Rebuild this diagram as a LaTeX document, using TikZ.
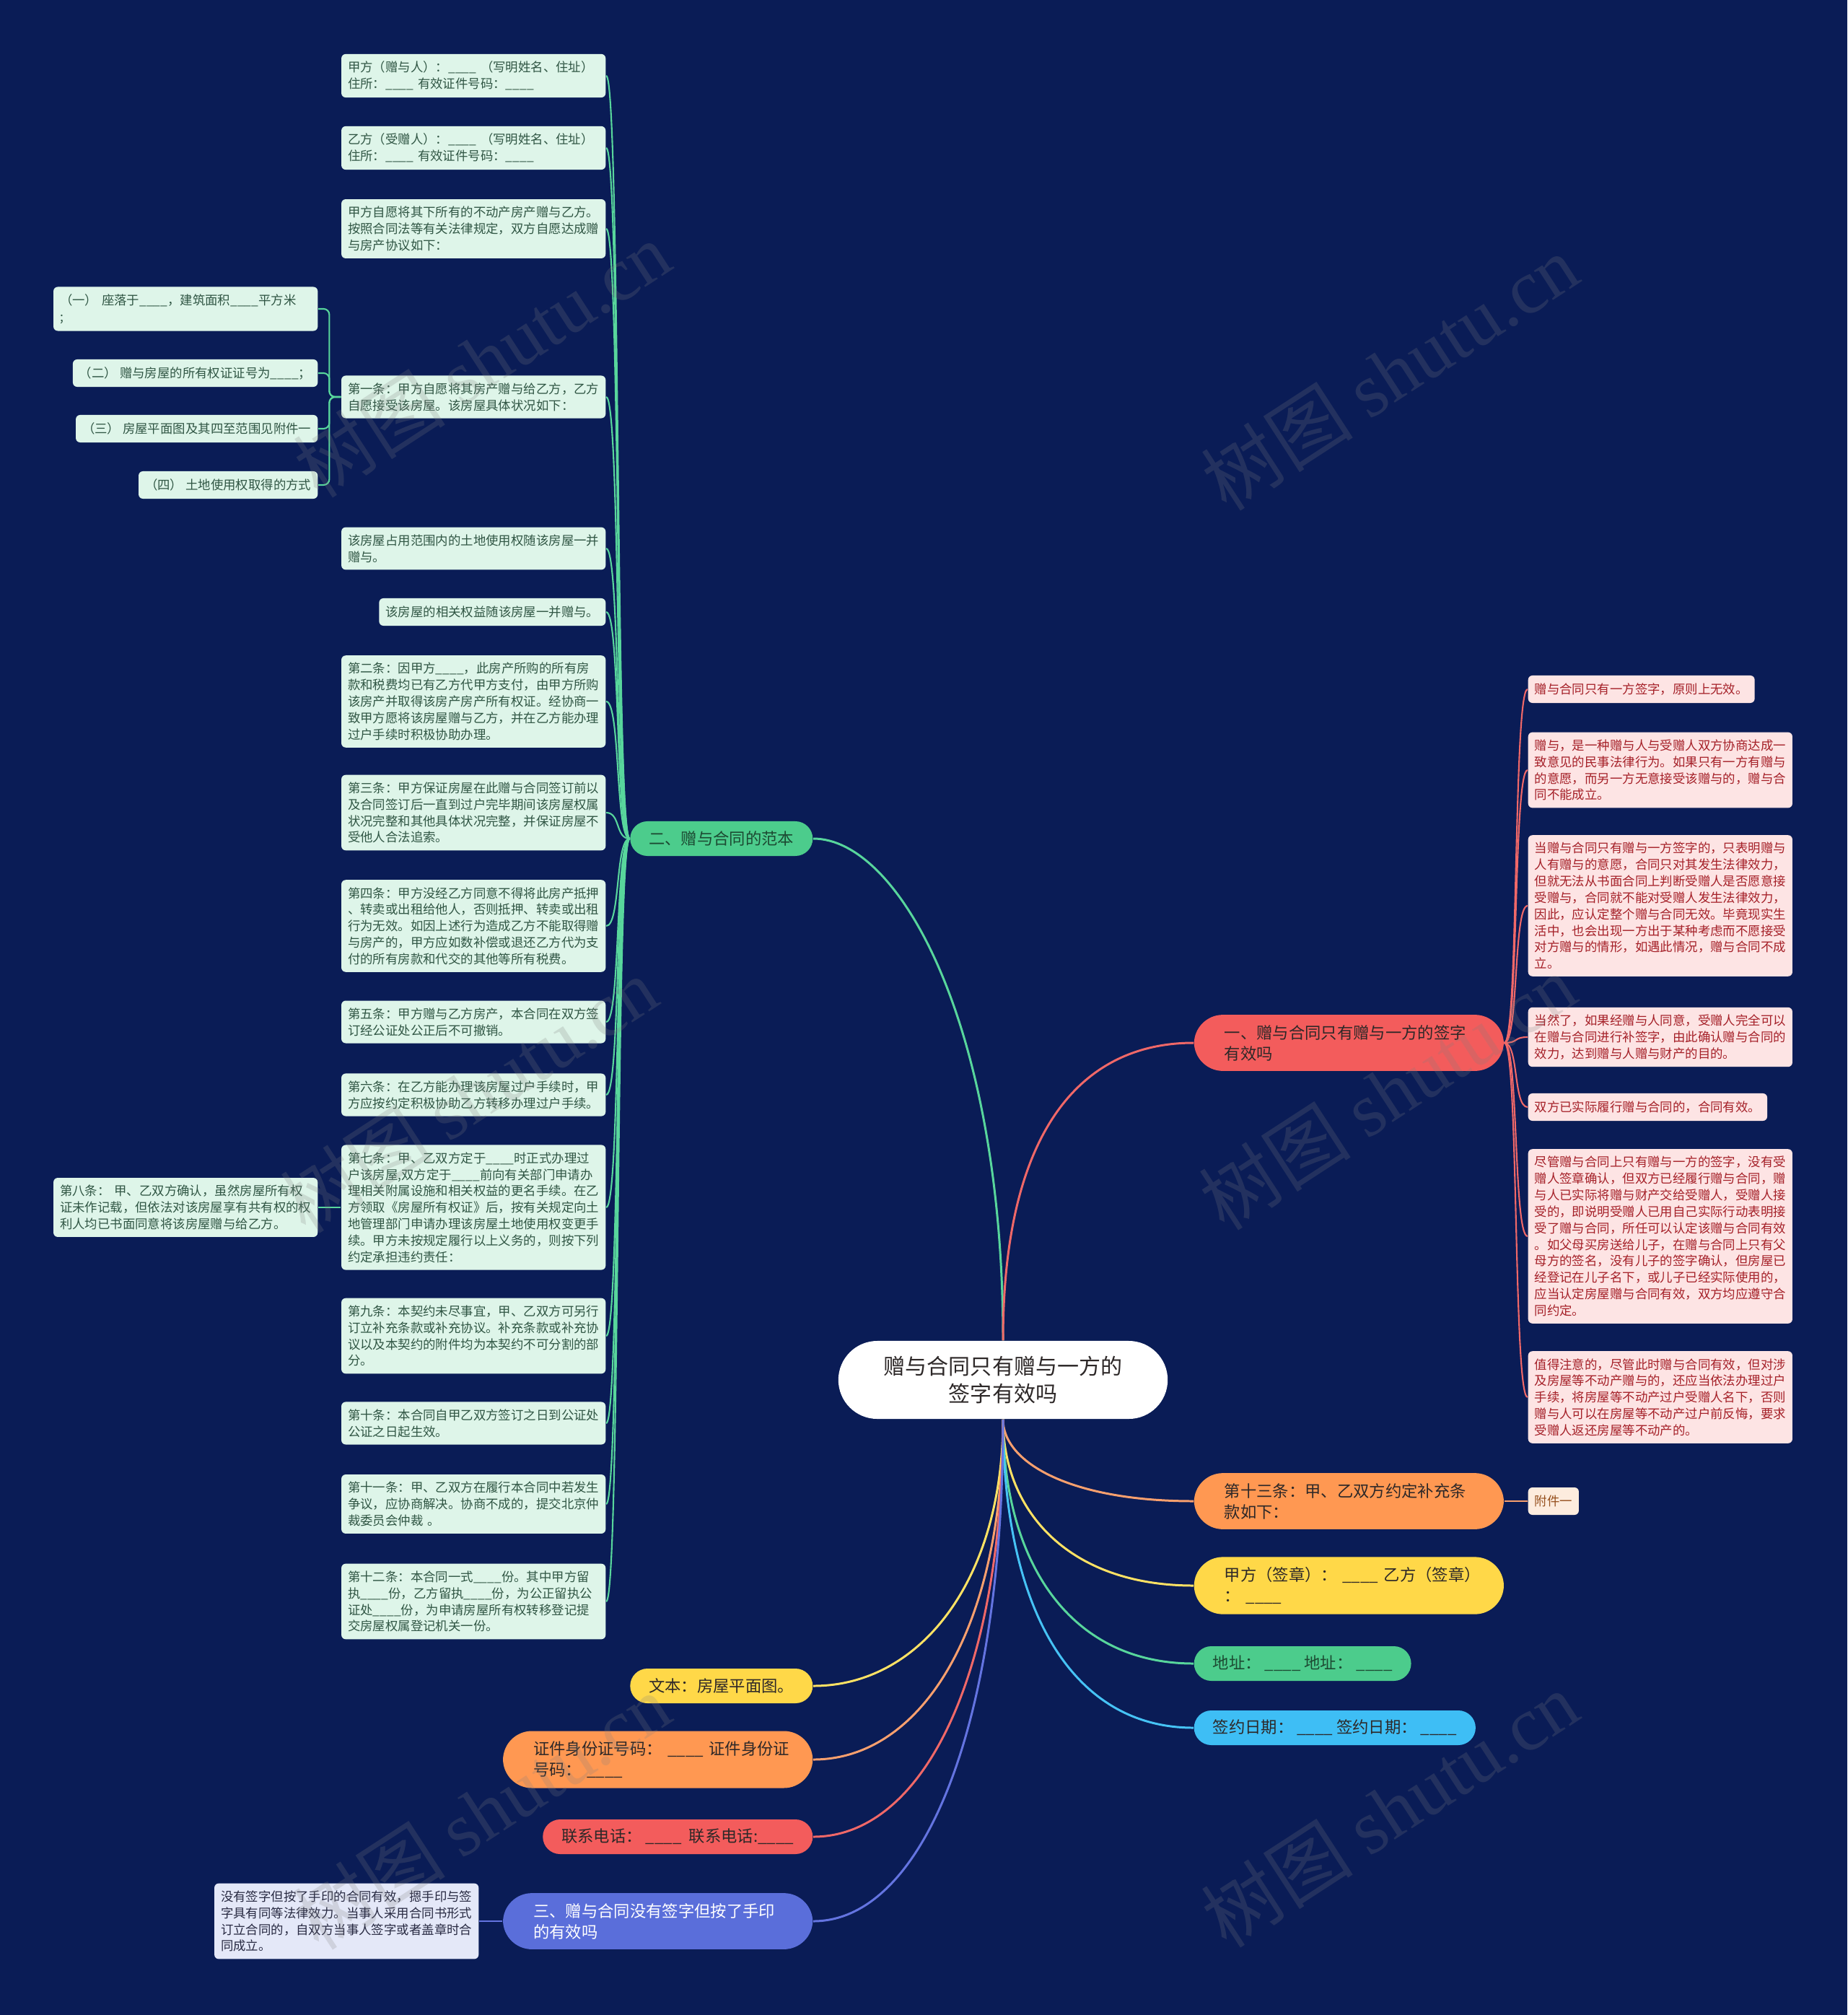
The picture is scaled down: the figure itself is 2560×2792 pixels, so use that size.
\documentclass[tikz,border=0pt]{standalone}
\usepackage{fontspec}
\setmainfont{Noto Sans CJK SC}
\newfontfamily\wmfont{Liberation Serif}
\usepackage{xcolor}
\usepackage{tikz}

\definecolor{bgnavy}{RGB}{10,28,86}
\definecolor{mintfill}{RGB}{222,245,233}
\definecolor{minttext}{RGB}{48,86,68}
\definecolor{pinkfill}{RGB}{253,228,228}
\definecolor{pinktext}{RGB}{165,32,40}
\definecolor{peachfill}{RGB}{253,236,222}
\definecolor{peachtext}{RGB}{150,80,30}
\definecolor{lavfill}{RGB}{228,232,248}
\definecolor{lavtext}{RGB}{40,42,66}
\definecolor{greenfill}{RGB}{76,204,140}
\definecolor{greentext}{RGB}{28,74,50}
\definecolor{redfill}{RGB}{243,92,92}
\definecolor{orangefill}{RGB}{255,152,82}
\definecolor{yellowfill}{RGB}{255,216,72}
\definecolor{cyanfill}{RGB}{62,190,245}
\definecolor{purplefill}{RGB}{90,110,218}
\definecolor{darktext}{RGB}{45,40,40}
\definecolor{greenline}{RGB}{88,214,156}
\definecolor{redline}{RGB}{240,104,104}
\definecolor{orangeline}{RGB}{250,160,110}
\definecolor{yellowline}{RGB}{255,226,100}
\definecolor{cyanline}{RGB}{70,195,245}
\definecolor{purpleline}{RGB}{100,116,225}

\newcommand{\xblank}{\_\_\_\_}

\begin{document}
\begin{tikzpicture}[x=0.01cm, y=-0.01cm,
  leafg/.style={fill=mintfill, text=minttext, rounded corners=0.06cm, inner xsep=0.09cm, inner ysep=0.1cm, minimum height=0.38cm, align=left, font=\fontsize{4.95}{6.49}\selectfont},
  leafr/.style={leafg, fill=pinkfill, text=pinktext},
  wide/.style={text width=3.48cm},
  pill/.style={rounded corners=0.24cm, inner xsep=0.26cm, inner ysep=0.13cm, minimum height=0.48cm, text=darktext, font=\fontsize{6.35}{8.25}\selectfont},
  pilltwo/.style={pill, rounded corners=0.4cm, inner xsep=0.42cm, inner ysep=0.14cm, text width=3.45cm, align=left},
  root/.style={fill=white, text=darktext, rounded corners=0.54cm, inner xsep=0.63cm, inner ysep=0.2cm, minimum height=1.08cm, align=center, font=\fontsize{8.54}{10.8}\selectfont},
  link/.style={line width=0.85pt},
  twig/.style={line width=0.6pt},
  wm/.style={rotate=33, text=gray, opacity=0.22, font=\fontsize{30}{30}\selectfont}
]
\useasboundingbox (0,0) rectangle (2560,2792);
\fill[bgnavy] (0,0) rectangle (2560,2792);

\node[root] (root) at (1390,1912) {赠与合同只有赠与一方的\\签字有效吗};

\node[pill, fill=greenfill, text=greentext, anchor=east] (sample) at (1127,1162) {二、赠与合同的范本};
\node[pilltwo, fill=redfill, anchor=west] (onlyone) at (1654,1445) {一、赠与合同只有赠与一方的签字\\有效吗};
\node[pilltwo, fill=orangefill, anchor=west] (art13) at (1654,2080) {第十三条：甲、乙双方约定补充条\\款如下：};
\node[pilltwo, fill=yellowfill, anchor=west] (sign) at (1654,2197) {甲方（签章）：~\xblank{}~乙方（签章）\\：~\xblank{}};
\node[pill, fill=greenfill, text=greentext, anchor=west] (addr) at (1654,2305) {地址：~\xblank{}~地址：~\xblank{}};
\node[pill, fill=cyanfill, anchor=west] (date) at (1654,2394) {签约日期：~\xblank{}~签约日期：~\xblank{}};
\node[pill, fill=yellowfill, anchor=east] (plantext) at (1127,2336) {文本：房屋平面图。};
\node[pilltwo, fill=orangefill, anchor=east] (idno) at (1127,2438) {证件身份证号码：~\xblank{}~证件身份证\\号码：~\xblank{}};
\node[pill, fill=redfill, anchor=east] (phone) at (1127,2545) {联系电话：~\xblank{}~~联系电话:\xblank{}};
\node[pilltwo, fill=purplefill, text=white, anchor=east] (fingerprint) at (1127,2662) {三、赠与合同没有签字但按了手印\\的有效吗};

\node[leafg, wide, anchor=east] (donor) at (840,105) {甲方（赠与人）：\xblank{}~（写明姓名、住址）\\住所：\xblank{}~有效证件号码：\xblank{}};
\node[leafg, wide, anchor=east] (donee) at (840,205) {乙方（受赠人）：\xblank{}~（写明姓名、住址）\\住所：\xblank{}~有效证件号码：\xblank{}};
\node[leafg, wide, anchor=east] (intro) at (840,317) {甲方自愿将其下所有的不动产房产赠与乙方。\\按照合同法等有关法律规定，双方自愿达成赠\\与房产协议如下：};
\node[leafg, wide, anchor=east] (art1) at (840,550) {第一条：甲方自愿将其房产赠与给乙方，乙方\\自愿接受该房屋。该房屋具体状况如下：};
\node[leafg, wide, anchor=east] (land) at (840,760) {该房屋占用范围内的土地使用权随该房屋一并\\赠与。};
\node[leafg, anchor=east] (rights) at (840,848) {该房屋的相关权益随该房屋一并赠与。};
\node[leafg, wide, anchor=east] (art2) at (840,972) {第二条：因甲方\xblank{}，此房产所购的所有房\\款和税费均已有乙方代甲方支付，由甲方所购\\该房产并取得该房产房产所有权证。经协商一\\致甲方愿将该房屋赠与乙方，并在乙方能办理\\过户手续时积极协助办理。};
\node[leafg, wide, anchor=east] (art3) at (840,1126) {第三条：甲方保证房屋在此赠与合同签订前以\\及合同签订后一直到过户完毕期间该房屋权属\\状况完整和其他具体状况完整，并保证房屋不\\受他人合法追索。};
\node[leafg, wide, anchor=east] (art4) at (840,1283) {第四条：甲方没经乙方同意不得将此房产抵押\\、转卖或出租给他人，否则抵押、转卖或出租\\行为无效。如因上述行为造成乙方不能取得赠\\与房产的，甲方应如数补偿或退还乙方代为支\\付的所有房款和代交的其他等所有税费。};
\node[leafg, wide, anchor=east] (art5) at (840,1416) {第五条：甲方赠与乙方房产，本合同在双方签\\订经公证处公正后不可撤销。};
\node[leafg, wide, anchor=east] (art6) at (840,1517) {第六条：在乙方能办理该房屋过户手续时，甲\\方应按约定积极协助乙方转移办理过户手续。};
\node[leafg, wide, anchor=east] (art7) at (840,1673) {第七条：甲、乙双方定于\xblank{}时正式办理过\\户该房屋,双方定于\xblank{}前向有关部门申请办\\理相关附属设施和相关权益的更名手续。在乙\\方领取《房屋所有权证》后，按有关规定向土\\地管理部门申请办理该房屋土地使用权变更手\\续。甲方未按规定履行以上义务的，则按下列\\约定承担违约责任：};
\node[leafg, wide, anchor=east] (art9) at (840,1851) {第九条：本契约未尽事宜，甲、乙双方可另行\\订立补充条款或补充协议。补充条款或补充协\\议以及本契约的附件均为本契约不可分割的部\\分。};
\node[leafg, wide, anchor=east] (art10) at (840,1972) {第十条：本合同自甲乙双方签订之日到公证处\\公证之日起生效。};
\node[leafg, wide, anchor=east] (art11) at (840,2084) {第十一条：甲、乙双方在履行本合同中若发生\\争议，应协商解决。协商不成的，提交北京仲\\裁委员会仲裁~。};
\node[leafg, wide, anchor=east] (art12) at (840,2219) {第十二条：本合同一式\xblank{}份。其中甲方留\\执\xblank{}份，乙方留执\xblank{}份，为公正留执公\\证处\xblank{}份，为申请房屋所有权转移登记提\\交房屋权属登记机关一份。};

\node[leafg, wide, anchor=east] (loc) at (441,428) {（一）~座落于\xblank{}，建筑面积\xblank{}平方米\\;};
\node[leafg, anchor=east] (cert) at (441,517) {（二）~赠与房屋的所有权证证号为\xblank{}；};
\node[leafg, anchor=east] (plan) at (441,594) {（三）~房屋平面图及其四至范围见附件一};
\node[leafg, anchor=east] (landuse) at (441,672) {（四）~土地使用权取得的方式};
\node[leafg, wide, anchor=east] (art8) at (441,1673) {第八条：~甲、乙双方确认，虽然房屋所有权\\证未作记载，但依法对该房屋享有共有权的权\\利人均已书面同意将该房屋赠与给乙方。};

\node[leafr, anchor=west] (rule) at (2117,955) {赠与合同只有一方签字，原则上无效。};
\node[leafr, wide, anchor=west] (consent) at (2117,1067) {赠与，是一种赠与人与受赠人双方协商达成一\\致意见的民事法律行为。如果只有一方有赠与\\的意愿，而另一方无意接受该赠与的，赠与合\\同不能成立。};
\node[leafr, wide, anchor=west] (onesign) at (2117,1255) {当赠与合同只有赠与一方签字的，只表明赠与\\人有赠与的意愿，合同只对其发生法律效力，\\但就无法从书面合同上判断受赠人是否愿意接\\受赠与，合同就不能对受赠人发生法律效力，\\因此，应认定整个赠与合同无效。毕竟现实生\\活中，也会出现一方出于某种考虑而不愿接受\\对方赠与的情形，如遇此情况，赠与合同不成\\立。};
\node[leafr, wide, anchor=west] (resign) at (2117,1437) {当然了，如果经赠与人同意，受赠人完全可以\\在赠与合同进行补签字，由此确认赠与合同的\\效力，达到赠与人赠与财产的目的。};
\node[leafr, anchor=west] (performed) at (2117,1534) {双方已实际履行赠与合同的，合同有效。};
\node[leafr, wide, anchor=west] (despite) at (2117,1713) {尽管赠与合同上只有赠与一方的签字，没有受\\赠人签章确认，但双方已经履行赠与合同，赠\\与人已实际将赠与财产交给受赠人，受赠人接\\受的，即说明受赠人已用自己实际行动表明接\\受了赠与合同，所任可以认定该赠与合同有效\\。如父母买房送给儿子，在赠与合同上只有父\\母方的签名，没有儿子的签字确认，但房屋已\\经登记在儿子名下，或儿子已经实际使用的，\\应当认定房屋赠与合同有效，双方均应遵守合\\同约定。};
\node[leafr, wide, anchor=west] (caution) at (2117,1936) {值得注意的，尽管此时赠与合同有效，但对涉\\及房屋等不动产赠与的，还应当依法办理过户\\手续，将房屋等不动产过户受赠人名下，否则\\赠与人可以在房屋等不动产过户前反悔，要求\\受赠人返还房屋等不动产的。};

\node[leafg, fill=peachfill, text=peachtext, anchor=west] (attach) at (2117,2080) {附件一};
\node[leafg, wide, fill=lavfill, text=lavtext, anchor=east] (fpnote) at (664,2662) {没有签字但按了手印的合同有效，摁手印与签\\字具有同等法律效力。当事人采用合同书形式\\订立合同的，自双方当事人签字或者盖章时合\\同成立。};

\draw[link, greenline] (root.north) .. controls +(0,-435) and +(120,0) .. (sample.east);
\draw[link, redline] (root.north) .. controls +(0,-290) and +(-156,0) .. (onlyone.west);
\draw[link, orangeline] (root.south) .. controls +(0,60) and +(-170,0) .. (art13.west);
\draw[link, yellowline] (root.south) .. controls +(0,130) and +(-170,0) .. (sign.west);
\draw[link, greenline] (root.south) .. controls +(0,200) and +(-170,0) .. (addr.west);
\draw[link, cyanline] (root.south) .. controls +(0,260) and +(-170,0) .. (date.west);
\draw[link, yellowline] (root.south) .. controls +(0,220) and +(150,0) .. (plantext.east);
\draw[link, orangeline] (root.south) .. controls +(0,290) and +(150,0) .. (idno.east);
\draw[link, redline] (root.south) .. controls +(0,360) and +(150,0) .. (phone.east);
\draw[link, purpleline] (root.south) .. controls +(0,430) and +(150,0) .. (fingerprint.east);

\draw[twig, greenline] (sample.west) .. controls +(-20,0) and +(20,0) .. (donor.east);
\draw[twig, greenline] (sample.west) .. controls +(-20,0) and +(20,0) .. (donee.east);
\draw[twig, greenline] (sample.west) .. controls +(-20,0) and +(20,0) .. (intro.east);
\draw[twig, greenline] (sample.west) .. controls +(-20,0) and +(20,0) .. (art1.east);
\draw[twig, greenline] (sample.west) .. controls +(-20,0) and +(20,0) .. (land.east);
\draw[twig, greenline] (sample.west) .. controls +(-20,0) and +(20,0) .. (rights.east);
\draw[twig, greenline] (sample.west) .. controls +(-20,0) and +(20,0) .. (art2.east);
\draw[twig, greenline] (sample.west) .. controls +(-20,0) and +(20,0) .. (art3.east);
\draw[twig, greenline] (sample.west) .. controls +(-20,0) and +(20,0) .. (art4.east);
\draw[twig, greenline] (sample.west) .. controls +(-20,0) and +(20,0) .. (art5.east);
\draw[twig, greenline] (sample.west) .. controls +(-20,0) and +(20,0) .. (art6.east);
\draw[twig, greenline] (sample.west) .. controls +(-20,0) and +(20,0) .. (art7.east);
\draw[twig, greenline] (sample.west) .. controls +(-20,0) and +(20,0) .. (art9.east);
\draw[twig, greenline] (sample.west) .. controls +(-20,0) and +(20,0) .. (art10.east);
\draw[twig, greenline] (sample.west) .. controls +(-20,0) and +(20,0) .. (art11.east);
\draw[twig, greenline] (sample.west) .. controls +(-20,0) and +(20,0) .. (art12.east);
\draw[twig, greenline, rounded corners=0.08cm] (art1.west) -- ++(-16,0) |- (loc.east);
\draw[twig, greenline, rounded corners=0.08cm] (art1.west) -- ++(-16,0) |- (cert.east);
\draw[twig, greenline, rounded corners=0.08cm] (art1.west) -- ++(-16,0) |- (plan.east);
\draw[twig, greenline, rounded corners=0.08cm] (art1.west) -- ++(-16,0) |- (landuse.east);
\draw[twig, greenline] (art7.west) -- (art8.east);

\draw[twig, redline] (onlyone.east) .. controls +(20,0) and +(-20,0) .. (rule.west);
\draw[twig, redline] (onlyone.east) .. controls +(20,0) and +(-20,0) .. (consent.west);
\draw[twig, redline] (onlyone.east) .. controls +(20,0) and +(-20,0) .. (onesign.west);
\draw[twig, redline] (onlyone.east) .. controls +(20,0) and +(-20,0) .. (resign.west);
\draw[twig, redline] (onlyone.east) .. controls +(20,0) and +(-20,0) .. (performed.west);
\draw[twig, redline] (onlyone.east) .. controls +(20,0) and +(-20,0) .. (despite.west);
\draw[twig, redline] (onlyone.east) .. controls +(20,0) and +(-20,0) .. (caution.west);
\draw[twig, orangeline] (art13.east) -- (attach.west);
\draw[twig, purpleline] (fingerprint.west) -- (fpnote.east);

\node[wm] (wm1) at (668,498) {树图~{\wmfont shutu.cn}};
\node[wm] (wm2) at (1926,516) {树图~{\wmfont shutu.cn}};
\node[wm] (wm3) at (650,1517) {树图~{\wmfont shutu.cn}};
\node[wm] (wm4) at (1923,1513) {树图~{\wmfont shutu.cn}};
\node[wm] (wm5) at (668,2510) {树图~{\wmfont shutu.cn}};
\node[wm] (wm6) at (1926,2507) {树图~{\wmfont shutu.cn}};
\end{tikzpicture}
\end{document}
